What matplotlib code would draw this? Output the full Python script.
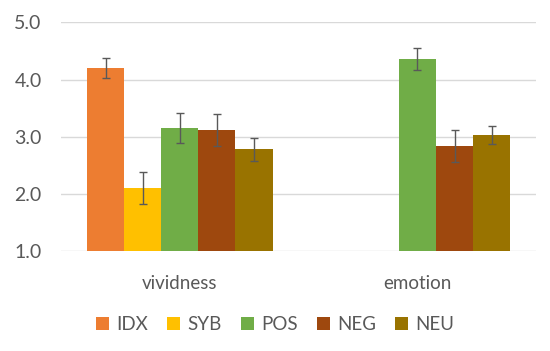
import numpy as np
import matplotlib.pyplot as plt
from matplotlib.patches import Patch

categories = ['vividness', 'emotion']
series = ['IDX', 'SYB', 'POS', 'NEG', 'NEU']
colors = ['#ED7D31', '#FFC000', '#70AD47', '#9E480E', '#997300']

# means per series (vividness, emotion); nan = not shown
means = {
    'IDX': [4.20, np.nan],
    'SYB': [2.10, np.nan],
    'POS': [3.15, 4.36],
    'NEG': [3.12, 2.84],
    'NEU': [2.78, 3.03],
}
errors = {
    'IDX': [0.18, np.nan],
    'SYB': [0.28, np.nan],
    'POS': [0.26, 0.20],
    'NEG': [0.28, 0.28],
    'NEU': [0.20, 0.15],
}

plt.rcParams['font.family'] = ['Lato', 'DejaVu Sans']
text_col = '#595959'

fig = plt.figure(figsize=(5.5, 3.51), dpi=100)
ax = fig.add_axes([0.111, 0.285, 0.864, 0.651])

x = np.arange(len(categories))
w = 0.78 / len(series)
for i, s in enumerate(series):
    pos = x + (i - 2) * w
    ax.bar(pos, means[s], width=w, color=colors[i], bottom=0, zorder=2)
    ax.errorbar(pos, means[s], yerr=errors[s], fmt='none', ecolor='#595959',
                elinewidth=1, capsize=3, capthick=1, zorder=3)

ax.set_ylim(1, 5)
ax.set_xlim(-0.5, 1.5)
ax.set_yticks([1, 2, 3, 4, 5])
ax.set_yticklabels(['1.0', '2.0', '3.0', '4.0', '5.0'])
ax.set_xticks(x)
ax.set_xticklabels(categories)
ax.tick_params(axis='both', length=0, labelsize=14, colors=text_col)
ax.tick_params(axis='x', pad=17, labelsize=13.5)
ax.tick_params(axis='y', pad=14)
ax.yaxis.grid(True, color='#D9D9D9', linewidth=1, zorder=0)
ax.set_axisbelow(True)
for sp in ax.spines.values():
    sp.set_visible(False)

handles = [Patch(facecolor=c, label=s) for s, c in zip(series, colors)]
leg = fig.legend(handles=handles, loc='center', bbox_to_anchor=(0.5, 0.075), ncol=5,
                 frameon=False, fontsize=13.5, handlelength=0.7, handleheight=0.7,
                 handletextpad=0.4, columnspacing=1.0)
for t in leg.get_texts():
    t.set_color(text_col)

fig.savefig('out.png', dpi=100)
